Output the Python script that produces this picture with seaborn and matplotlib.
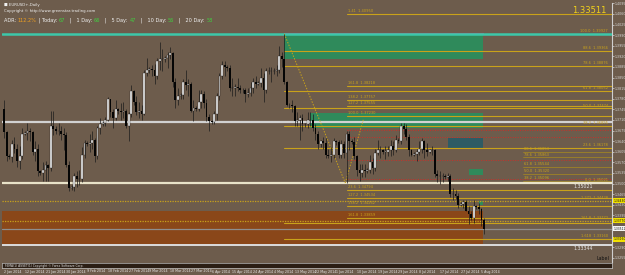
import matplotlib
matplotlib.use("Agg")
import matplotlib.pyplot as plt
import matplotlib.transforms as mtransforms
import seaborn as sns
import pandas as pd
import numpy as np

# EURUSD daily, Jan 2 - Aug 6 2014 (broker with Sunday bars)
first_open = 1.3745
closes = [
    1.3670, 1.3590,
    1.3588, 1.3630, 1.3615, 1.3575, 1.3590, 1.3665,
    1.3668, 1.3675, 1.3670, 1.3605, 1.3615, 1.3540,
    1.3536, 1.3545, 1.3560, 1.3550, 1.3690, 1.3680,
    1.3672, 1.3675, 1.3665, 1.3660, 1.3560, 1.3485,
    1.3488, 1.3525, 1.3515, 1.3515, 1.3595, 1.3635,
    1.3632, 1.3635, 1.3645, 1.3590, 1.3685, 1.3695,
    1.3700, 1.3710, 1.3780, 1.3735, 1.3715, 1.3745,
    1.3738, 1.3735, 1.3740, 1.3690, 1.3730, 1.3805,
    1.3770, 1.3735, 1.3740, 1.3730, 1.3865, 1.3875,
    1.3878, 1.3875, 1.3855, 1.3905, 1.3910, 1.3910,
    1.3915, 1.3925, 1.3930, 1.3835, 1.3775, 1.3790,
    1.3792, 1.3835, 1.3825, 1.3830, 1.3740, 1.3750,
    1.3745, 1.3770, 1.3795, 1.3765, 1.3720, 1.3705,
    1.3702, 1.3730, 1.3790, 1.3855, 1.3890, 1.3885,
    1.3880, 1.3815, 1.3815, 1.3820, 1.3815, 1.3810,
    1.3808, 1.3795, 1.3800, 1.3815, 1.3835, 1.3830,
    1.3832, 1.3850, 1.3810, 1.3870, 1.3870, 1.3870,
    1.3872, 1.3875, 1.3920, 1.3910, 1.3835, 1.3760,
    1.3758, 1.3755, 1.3705, 1.3710, 1.3715, 1.3695,
    1.3697, 1.3710, 1.3710, 1.3685, 1.3665, 1.3630,
    1.3640, 1.3635, 1.3595, 1.3590, 1.3595, 1.3640,
    1.3636, 1.3595, 1.3630, 1.3600, 1.3665, 1.3640,
    1.3638, 1.3590, 1.3545, 1.3535, 1.3545, 1.3540,
    1.3545, 1.3570, 1.3550, 1.3600, 1.3610, 1.3610,
    1.3605, 1.3605, 1.3610, 1.3625, 1.3610, 1.3645,
    1.3642, 1.3690, 1.3680, 1.3655, 1.3610, 1.3595,
    1.3598, 1.3605, 1.3615, 1.3640, 1.3610, 1.3605,
    1.3610, 1.3610, 1.3530, 1.3525, 1.3525, 1.3525,
    1.3522, 1.3525, 1.3465, 1.3465, 1.3460, 1.3430,
    1.3432, 1.3440, 1.3410, 1.3400, 1.3385, 1.3425,
    1.3422, 1.3415, 1.3380, 1.3351,
]
highs = [
    1.3775, 1.3675,
    1.3598, 1.3645, 1.3655, 1.3630, 1.3625, 1.3685,
    1.3675, 1.3700, 1.3685, 1.3675, 1.3640, 1.3630,
    1.3545, 1.3570, 1.3575, 1.3565, 1.3740, 1.3740,
    1.3690, 1.3700, 1.3690, 1.3685, 1.3670, 1.3575,
    1.3495, 1.3535, 1.3540, 1.3545, 1.3620, 1.3645,
    1.3640, 1.3665, 1.3675, 1.3650, 1.3690, 1.3715,
    1.3705, 1.3720, 1.3785, 1.3780, 1.3745, 1.3775,
    1.3748, 1.3765, 1.3770, 1.3745, 1.3735, 1.3825,
    1.3808, 1.3790, 1.3770, 1.3760, 1.3875, 1.3915,
    1.3885, 1.3890, 1.3895, 1.3915, 1.3967, 1.3945,
    1.3920, 1.3935, 1.3950, 1.3935, 1.3850, 1.3815,
    1.3800, 1.3845, 1.3875, 1.3845, 1.3835, 1.3775,
    1.3755, 1.3810, 1.3810, 1.3805, 1.3780, 1.3730,
    1.3710, 1.3740, 1.3800, 1.3865, 1.3905, 1.3905,
    1.3890, 1.3890, 1.3850, 1.3830, 1.3850, 1.3825,
    1.3815, 1.3815, 1.3815, 1.3835, 1.3850, 1.3855,
    1.3840, 1.3880, 1.3865, 1.3880, 1.3885, 1.3885,
    1.3880, 1.3890, 1.3955, 1.3935, 1.3993, 1.3840,
    1.3765, 1.3775, 1.3760, 1.3735, 1.3725, 1.3730,
    1.3700, 1.3735, 1.3735, 1.3730, 1.3695, 1.3675,
    1.3645, 1.3655, 1.3650, 1.3615, 1.3620, 1.3650,
    1.3645, 1.3645, 1.3645, 1.3640, 1.3675, 1.3675,
    1.3648, 1.3655, 1.3595, 1.3565, 1.3565, 1.3565,
    1.3550, 1.3595, 1.3585, 1.3615, 1.3645, 1.3625,
    1.3615, 1.3625, 1.3625, 1.3645, 1.3640, 1.3660,
    1.3650, 1.3700, 1.3700, 1.3695, 1.3665, 1.3615,
    1.3605, 1.3615, 1.3640, 1.3650, 1.3645, 1.3635,
    1.3615, 1.3625, 1.3615, 1.3545, 1.3540, 1.3535,
    1.3530, 1.3535, 1.3530, 1.3485, 1.3480, 1.3470,
    1.3440, 1.3445, 1.3445, 1.3425, 1.3410, 1.3445,
    1.3430, 1.3435, 1.3420, 1.3385,
]
lows = [
    1.3650, 1.3574,
    1.3580, 1.3570, 1.3600, 1.3555, 1.3547, 1.3580,
    1.3660, 1.3645, 1.3640, 1.3595, 1.3575, 1.3525,
    1.3528, 1.3510, 1.3510, 1.3510, 1.3540, 1.3660,
    1.3665, 1.3660, 1.3645, 1.3610, 1.3555, 1.3475,
    1.3478, 1.3477, 1.3490, 1.3495, 1.3505, 1.3585,
    1.3625, 1.3605, 1.3615, 1.3570, 1.3580, 1.3665,
    1.3690, 1.3690, 1.3705, 1.3720, 1.3685, 1.3710,
    1.3730, 1.3710, 1.3715, 1.3685, 1.3640, 1.3720,
    1.3760, 1.3725, 1.3715, 1.3710, 1.3725, 1.3855,
    1.3865, 1.3855, 1.3830, 1.3845, 1.3875, 1.3870,
    1.3900, 1.3880, 1.3910, 1.3820, 1.3750, 1.3760,
    1.3780, 1.3780, 1.3810, 1.3790, 1.3735, 1.3705,
    1.3738, 1.3740, 1.3750, 1.3750, 1.3705, 1.3672,
    1.3695, 1.3695, 1.3710, 1.3775, 1.3845, 1.3855,
    1.3870, 1.3805, 1.3790, 1.3790, 1.3805, 1.3800,
    1.3800, 1.3770, 1.3785, 1.3790, 1.3800, 1.3815,
    1.3825, 1.3820, 1.3770, 1.3800, 1.3860, 1.3835,
    1.3862, 1.3855, 1.3865, 1.3885, 1.3830, 1.3755,
    1.3750, 1.3735, 1.3690, 1.3690, 1.3645, 1.3675,
    1.3688, 1.3685, 1.3690, 1.3675, 1.3645, 1.3615,
    1.3622, 1.3615, 1.3585, 1.3585, 1.3570, 1.3585,
    1.3628, 1.3585, 1.3585, 1.3585, 1.3503, 1.3610,
    1.3630, 1.3580, 1.3525, 1.3510, 1.3520, 1.3520,
    1.3535, 1.3535, 1.3530, 1.3540, 1.3595, 1.3585,
    1.3598, 1.3580, 1.3590, 1.3590, 1.3595, 1.3605,
    1.3635, 1.3630, 1.3665, 1.3645, 1.3590, 1.3590,
    1.3590, 1.3575, 1.3595, 1.3600, 1.3585, 1.3590,
    1.3600, 1.3595, 1.3520, 1.3505, 1.3500, 1.3505,
    1.3515, 1.3510, 1.3455, 1.3445, 1.3450, 1.3420,
    1.3425, 1.3420, 1.3410, 1.3366, 1.3380, 1.3370,
    1.3415, 1.3400, 1.3360, 1.3333,
]
dates = pd.bdate_range("2014-01-02", "2014-08-06", freq="C",
                       weekmask="Sun Mon Tue Wed Thu Fri")

date_labels = ["2 Jan 2014", "12 Jan 2014", "21 Jan 2014", "30 Jan 2014",
               "9 Feb 2014", "18 Feb 2014", "27 Feb 2014", "9 Mar 2014",
               "18 Mar 2014", "27 Mar 2014", "6 Apr 2014", "15 Apr 2014",
               "24 Apr 2014", "4 May 2014", "13 May 2014", "22 May 2014",
               "1 Jun 2014", "10 Jun 2014", "19 Jun 2014", "29 Jun 2014",
               "8 Jul 2014", "17 Jul 2014", "27 Jul 2014", "5 Aug 2014"]
price_ticks = [1.4095, 1.4060, 1.4025, 1.3990, 1.3955, 1.3920, 1.3885,
               1.3850, 1.3815, 1.3780, 1.3745, 1.3710, 1.3675, 1.3640,
               1.3605, 1.3570, 1.3535, 1.3500, 1.3465, 1.3430, 1.3395,
               1.3360, 1.3325, 1.3290, 1.3255]

# fib retracement drawn from the May 8 high, labels at the right end
fib_a_start = "2014-05-08"
fib_a_prices = [1.3938, 1.3889, 1.3806, 1.3748, 1.3690, 1.3618, 1.3370, 1.3316]
fib_a_labels = ["88.6  1.39366", "78.6  1.38876", "61.8  1.38052",
                "50.0  1.37474", "38.2  1.36895", "23.6  1.36178",
                "", "1.618  1.33160"]
# dotted projection levels across the whole chart
proj_prices = [1.3443, 1.3377]
proj_labels = ["1.272  1.34428", "161.8  1.33772"]
# expansion levels drawn from the Jun 5 low, labels at the left end
fib_b_start = "2014-06-05"
fib_b_prices = [1.4060, 1.3822, 1.3776, 1.3756, 1.3723,
                1.3479, 1.3453, 1.3426, 1.3386]
fib_b_labels = ["1.41  1.40950", "161.8  1.38218", "138.2  1.37757",
                "127.2  1.37555", "100.0  1.37230", "23.6  1.34794",
                "127.2  1.34534", "138.2  1.34262", "161.8  1.33859"]
# retracement of the July leg, labels near the right side
fib_c_start = "2014-08-06"
fib_c_prices = [1.3605, 1.3586, 1.3554, 1.3532, 1.3510]
fib_c_labels = ["88.6  1.36053", "78.6  1.35863", "61.8  1.35544",
                "50.0  1.35320", "38.2  1.35096"]
red_levels = [1.3677, 1.3654, 1.3578, 1.3514]

# supply / demand zones: start date, bottom, top
zone_start = ["2014-05-08", "2014-05-20", "2014-07-21", "2014-07-30",
              "2014-08-04"]
zone_low = [1.3911, 1.3684, 1.3618, 1.3528, 1.3429]
zone_high = [1.3994, 1.3733, 1.3651, 1.3548, 1.3443]
zone_end = "2014-08-06"
orange_low, orange_high = 1.3301, 1.3410

high_price, low_price = 1.3994, 1.3502   # May 8 high, Jun 5 low
bid_price, day_low = 1.33511, 1.33344
mid_white = 1.3703
bottom_line = 1.3297
tag_prices = [1.3443, 1.3377, 1.3316]

BG = "#6d5c4c"
GOLD = "#c9a21a"
NARROW = ["Liberation Sans Narrow", "DejaVu Sans"]

sns.set_style("dark", {"axes.facecolor": BG, "figure.facecolor": BG})
plt.rcParams["font.family"] = NARROW

fig = plt.figure(figsize=(6.25, 2.75), dpi=100, facecolor=BG)
ax = fig.add_axes([2 / 625, 1 - 262 / 275, 610 / 625, 259 / 275])
ax.set_facecolor(BG)

df = pd.DataFrame({"date": dates, "close": closes, "high": highs, "low": lows})
df["open"] = [first_open] + closes[:-1]
df["x"] = np.arange(len(df))
pos = {d: i for i, d in enumerate(df["date"])}

x_left, x_right = -0.8, 234.3
ax.set_xlim(x_left, x_right)
ax.set_ylim(1.3241, 1.4096)
x_end = pos[pd.Timestamp(zone_end)] - 0.3

# zones
ax.fill_between([x_left, x_end], orange_low, orange_high,
                color="#8a4719", lw=0, zorder=1)
for s, lo, hi, c in zip(zone_start, zone_low, zone_high,
                        ["#2f8a5b", "#2f8a5b", "#2e5b64", "#2f8a5b", "#2f8a5b"]):
    ax.fill_between([pos[pd.Timestamp(s)], x_end], lo, hi, color=c, lw=0, zorder=1)
ax.plot([pos[pd.Timestamp(zone_start[0])], x_end], [zone_high[0] + 0.0004] * 2,
        color="#b05a8a", lw=0.8, zorder=2)

# fib A
xa = pos[pd.Timestamp(fib_a_start)]
for p, lab in zip(fib_a_prices, fib_a_labels):
    ax.plot([xa, x_right], [p, p], color=GOLD, lw=0.8, zorder=2)
    ax.text(x_right - 1.5, p + 0.0003, lab, color=GOLD, fontsize=2.6,
            ha="right", va="bottom", zorder=5)
ax.text(x_right - 1.5, high_price + 0.0003, "100.0  1.39927", color=GOLD,
        fontsize=2.6, ha="right", va="bottom", zorder=5)
ax.text(x_right - 1.5, low_price + 0.0003, "0.0  1.35021", color=GOLD,
        fontsize=2.6, ha="right", va="bottom", zorder=5)
for p, lab in zip(proj_prices, proj_labels):
    ax.axhline(p, color=GOLD, lw=0.9, ls=(0, (1, 1)), zorder=2)
    ax.text(x_right - 1.5, p + 0.0003, lab, color=GOLD, fontsize=2.6,
            ha="right", va="bottom", zorder=5)

# fib B
xb = pos[pd.Timestamp(fib_b_start)]
for p, lab in zip(fib_b_prices, fib_b_labels):
    ax.plot([xb, x_right], [p, p], color=GOLD, lw=0.8, zorder=2)
    ax.text(xb + 0.5, p + 0.0003, lab, color=GOLD, fontsize=2.6,
            ha="left", va="bottom", zorder=5)
for p in red_levels:
    ax.plot([xb, x_right], [p, p], color="#c8302a", lw=0.7, ls=(0, (1, 1.5)),
            zorder=2)

# fib C
xc = pos[pd.Timestamp(fib_c_start)] + 15
for p, lab in zip(fib_c_prices, fib_c_labels):
    ax.plot([xc, x_right], [p, p], color="#a88a1e", lw=0.5, zorder=2)
    ax.text(xc + 0.5, p + 0.0003, lab, color=GOLD, fontsize=2.6,
            ha="left", va="bottom", zorder=5)

# full-width levels
ax.axhline(high_price, color="#3cc8aa", lw=1.8, zorder=3)
ax.axhline(mid_white, color="#d2d2d2", lw=1.6, zorder=3)
ax.axhline(low_price, color="#e8e2c8", lw=1.6, zorder=3)
ax.axhline(bid_price, color="#8e8e8e", lw=0.9, zorder=3)
ax.axhline(bottom_line, color="#dcdcdc", lw=1.4, zorder=3)

# trend lines of the fib tools
trend = pd.DataFrame({"x": [xa, xb - 0.5, xb - 0.5, xb + 6.5],
                      "y": [high_price, low_price, low_price, 1.3712],
                      "g": ["a", "a", "b", "b"]})
sns.lineplot(data=trend, x="x", y="y", units="g", estimator=None, ax=ax,
             color=GOLD, lw=0.7, dashes=False, linestyle=(0, (1.5, 1.5)),
             zorder=4, legend=False)

# candles
bull = df["close"] >= df["open"]
ax.vlines(df["x"], df["low"], df["high"], color="#1c1c1c", lw=0.5, zorder=6)
body_lo = np.minimum(df["open"], df["close"])
body_h = np.maximum(np.abs(df["close"] - df["open"]), 0.00008)
ax.bar(df["x"][bull], body_h[bull], bottom=body_lo[bull], width=0.7,
       color="#eeeeee", edgecolor="#1c1c1c", lw=0.25, zorder=7)
ax.bar(df["x"][~bull], body_h[~bull], bottom=body_lo[~bull], width=0.7,
       color="#050505", lw=0, zorder=7)

# axes styling; tick labels hidden under the price tags are left blank
ax.set_xlabel("")
ax.set_ylabel("")
ax.yaxis.tick_right()
ax.set_yticks(price_ticks)
covered = tag_prices + [bid_price]
ax.set_yticklabels(["" if min(abs(t - c) for c in covered) < 0.0011 else f"{t:.4f}"
                    for t in price_ticks])
ax.tick_params(axis="y", colors="#d6d6d6", labelsize=2.3, length=1.2,
               width=0.5, pad=0.8)
ax.set_xticks(np.arange(0, len(df), 8))
ax.set_xticklabels([])
ax.tick_params(axis="x", length=0)
for side in ["top", "left", "bottom"]:
    ax.spines[side].set_visible(False)
ax.spines["right"].set_color("#cfcfcf")
ax.spines["right"].set_linewidth(0.8)
ax.grid(False)

# price tags on the axis
tag = mtransforms.blended_transform_factory(ax.transAxes, ax.transData)
for p, fc in [(tag_prices[0], "#f2e000"), (tag_prices[1], "#f2e000"),
              (tag_prices[2], "#f2e000"), (bid_price, "#f4f4f4")]:
    ax.text(1.003, p, f"{p:.5f}", transform=tag, fontsize=2.2, color="#111111",
            va="center", ha="left", clip_on=False,
            bbox=dict(boxstyle="square,pad=0.12", fc=fc, ec="none"))

ax.text(x_right - 2, 1.4070, "1.33511", color="#f2d21a", fontsize=6,
        ha="right", va="center", zorder=8, family=["DejaVu Sans"])
ax.text(x_right - 11, low_price - 0.0004, "1.35021", color="#e6e6e6",
        fontsize=3.4, ha="center", va="top", zorder=8)
ax.text(x_right - 11, bottom_line - 0.0004, "1.33344", color="#e6e6e6",
        fontsize=3.4, ha="center", va="top", zorder=8)
ax.text(x_right - 1, 1.3252, "Label", color="#111111", fontsize=3.4,
        ha="right", va="center", zorder=8)

# header
fig.text(4 / 625, 1 - 5 / 275, "\u25a0 EURUSD+,Daily", color="#f0f0f0",
         fontsize=2.8, va="center")
fig.text(4 / 625, 1 - 11 / 275, "Copyright \u00a9 http://www.greenstar-trading.com",
         color="#f0f0f0", fontsize=2.8, va="center")
header = [("ADR: ", "#f0f0f0"), ("112.2%", "#f0a020"), (" | Today: ", "#f0f0f0"),
          ("67", "#40d040"), ("   |   1 Day: ", "#f0f0f0"), ("66", "#40d040"),
          ("   |   5 Day: ", "#f0f0f0"), ("47", "#40d040"),
          ("   |   10 Day: ", "#f0f0f0"), ("56", "#40d040"),
          ("   |   20 Day: ", "#f0f0f0"), ("58", "#40d040")]
x0 = 4 / 625
for s, c in header:
    tt = fig.text(x0, 1 - 20 / 275, s, color=c, fontsize=3.6, va="center")
    fig.canvas.draw()
    x0 = tt.get_window_extent().x1 / fig.bbox.width

# indicator strip and dates
sub = fig.add_axes([2 / 625, 1 - 268 / 275, 610 / 625, 5 / 275])
sub.set_facecolor("#2b1e14")
sub.set_xlim(x_left, x_right)
sub.set_xticks([])
sub.set_yticks([])
for s in sub.spines.values():
    s.set_color("#bdbdbd")
    s.set_linewidth(0.5)
sub.text(0.3, 0.5, "FEMA(1) ASSET(1) Copyright \u00a9 Forex Software Corp.",
         color="#e0e0e0", fontsize=2.2, va="center")

for i, lab in zip(np.arange(0, len(df), 8), date_labels):
    xf = (2 + (i - x_left) / (x_right - x_left) * 610) / 625
    fig.text(xf, 1 - 271.5 / 275, lab, color="#e6e6e6", fontsize=2.3,
             ha="left", va="center")

fig.savefig("out.png", dpi=100, facecolor=BG)
